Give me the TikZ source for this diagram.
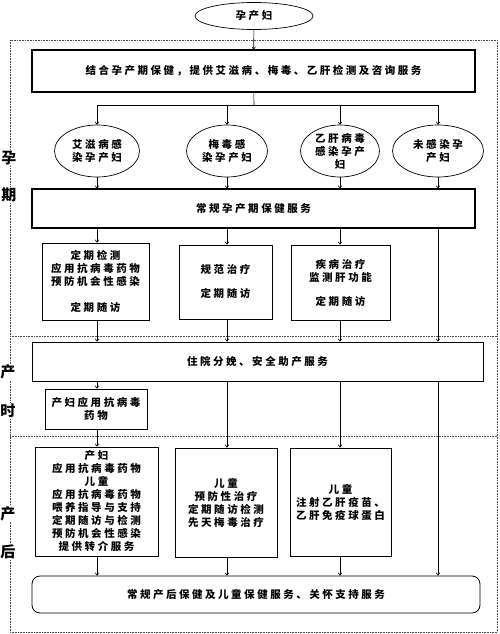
\documentclass[tikz,border=0pt]{standalone}
\usepackage{fontspec}
\setmainfont{Noto Sans CJK SC}
\newfontfamily\cjkwide[LetterSpace=24]{Noto Sans CJK SC}
\usetikzlibrary{arrows.meta,shapes.geometric}
\begin{document}
\begin{tikzpicture}[x=1pt,y=-1pt,
		every node/.style={font=\cjkwide\bfseries\fontsize{10.5}{13}\selectfont},
		box/.style={draw,line width=0.8pt,inner sep=0pt,align=center},
		oval/.style={draw,ellipse,line width=0.7pt,inner sep=0pt,align=center},
		arr/.style={-{To[length=3pt,width=4pt]},line width=0.6pt},
		zone/.style={densely dotted,line width=0.6pt,black!70},
		side/.style={fill=white,inner sep=1pt,font=\bfseries\fontsize{15}{15}\selectfont}]
			\useasboundingbox (0,0) rectangle (500,634);
			\draw[zone] (10,40) rectangle (497,632);
			\draw[zone] (10,336) -- (497,336);
			\draw[zone] (10,436) -- (497,436);
			\node[side] (yun) at (9,158) {孕};
			\node[side] (qi) at (9,195) {期};
			\node[side] (chan) at (8,372) {产};
			\node[side] (shi) at (8,411) {时};
			\node[side] (chan2) at (8,514) {产};
			\node[side] (hou) at (8,552) {后};
			\node[oval,minimum width=118,minimum height=27] (mother) at (254,16) {孕产妇};
			\node[box,line width=1.1pt,minimum width=443,minimum height=42] (test) at (253.5,71) {结合孕产期保健，提供艾滋病、梅毒、乙肝检测及咨询服务};
			\coordinate (fork) at (254,105);
			\node[oval,minimum width=85,minimum height=52] (hiv) at (97,151) {艾滋病感\\染孕产妇};
			\node[oval,minimum width=81,minimum height=52] (syph) at (227,151) {梅毒感\\染孕产妇};
			\node[oval,minimum width=79,minimum height=52] (hbv) at (340,151) {乙肝病毒\\感染孕产\\妇};
			\node[oval,minimum width=91,minimum height=52] (none) at (438,151) {未感染孕\\产妇};
			\node[box,line width=1.1pt,minimum width=443,minimum height=39] (care) at (253.5,208.5) {常规孕产期保健服务};
			\node[box,minimum width=107,minimum height=77] (hivcare) at (95.5,281.5) {定期检测\\应用抗病毒药物\\预防机会性感染\\[13pt]定期随访};
			\node[box,minimum width=93,minimum height=74] (syphcare) at (225.5,282) {规范治疗\\[11pt]定期随访};
			\node[box,minimum width=99,minimum height=75] (hbvcare) at (340.5,282.5) {疾病治疗\\监测肝功能\\[11pt]定期随访};
			\node[box,minimum width=451,minimum height=39] (birth) at (257.5,361.5) {住院分娩、安全助产服务};
			\node[box,minimum width=102,minimum height=40] (drug) at (96,409) {产妇应用抗病毒\\药物};
			\node[box,minimum width=123,minimum height=109] (hivpost) at (96.5,501.5) {产妇\\应用抗病毒药物\\儿童\\应用抗病毒药物\\喂养指导与支持\\定期随访与检测\\预防机会性感染\\提供转介服务};
			\node[box,line width=0.95pt,minimum width=102,minimum height=109] (syphpost) at (226,502.5) {儿童\\预防性治疗\\定期随访检测\\先天梅毒治疗};
			\node[box,line width=0.95pt,minimum width=101,minimum height=108] (hbvpost) at (340.5,502) {儿童\\注射乙肝疫苗、\\乙肝免疫球蛋白};
			\node[box,rounded corners=8,minimum width=448,minimum height=37] (after) at (256,594.5) {常规产后保健及儿童保健服务、关怀支持服务};
			\draw[arr] (mother) -- (test);
			\draw[line width=0.6pt] (test) -- (fork);
			\draw[line width=0.6pt] (hiv |- fork) -- (none |- fork);
			\draw[arr] (hiv |- fork) -- (hiv);
			\draw[arr] (syph |- fork) -- (syph);
			\draw[arr] (hbv |- fork) -- (hbv);
			\draw[arr] (none |- fork) -- (none);
			\draw[arr] (hiv) -- (hiv |- care.north);
			\draw[arr] (syph) -- (syph |- care.north);
			\draw[arr] (hbv) -- (hbv |- care.north);
			\draw[arr] (none) -- (none |- care.north);
			\draw[arr] (hiv |- care.south) -- (hiv |- hivcare.north);
			\draw[arr] (syph |- care.south) -- (syph |- syphcare.north);
			\draw[arr] (hbv |- care.south) -- (hbv |- hbvcare.north);
			\draw[arr] (none |- care.south) -- (none |- birth.north);
			\draw[arr] (hiv |- hivcare.south) -- (hiv |- birth.north);
			\draw[arr] (syph |- syphcare.south) -- (syph |- birth.north);
			\draw[arr] (hbv |- hbvcare.south) -- (hbv |- birth.north);
			\draw[arr] (hiv |- birth.south) -- (hiv |- drug.north);
			\draw[arr] (hiv |- drug.south) -- (hiv |- hivpost.north);
			\draw[arr] (syph |- birth.south) -- (syph |- syphpost.north);
			\draw[arr] (hbv |- birth.south) -- (hbv |- hbvpost.north);
			\draw[arr] (none |- birth.south) -- (none |- after.north);
			\draw[arr] (hiv |- hivpost.south) -- (hiv |- after.north);
			\draw[arr] (syph |- syphpost.south) -- (syph |- after.north);
			\draw[arr] (hbv |- hbvpost.south) -- (hbv |- after.north);
		\end{tikzpicture}
\end{document}
